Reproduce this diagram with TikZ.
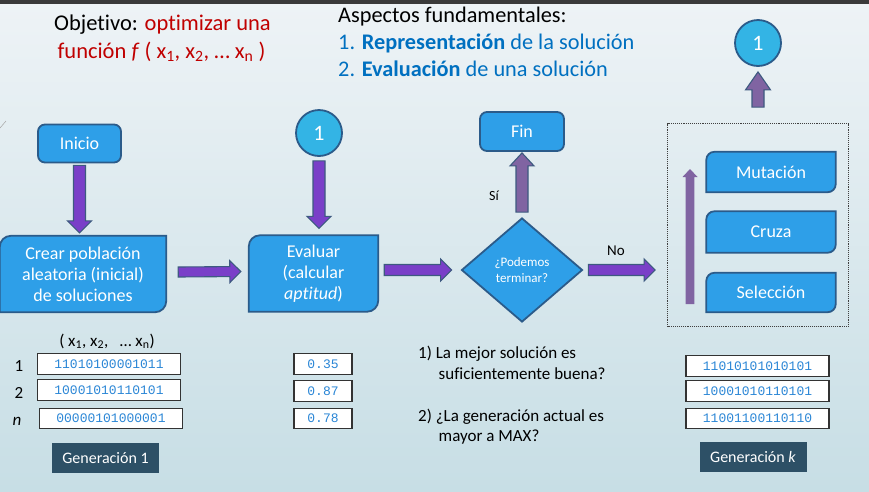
\documentclass[tikz,border=0pt]{standalone}
\usepackage{fontspec}
\setmainfont{Carlito}[Ligatures={NoCommon}]
\newfontfamily\monof{Liberation Mono}
\usetikzlibrary{shapes.geometric,calc}
\definecolor{bboxfill}{HTML}{2E9FE8}
\definecolor{bborder}{HTML}{2B5B8A}
\definecolor{circfill}{HTML}{33B4E5}
\definecolor{purpA}{HTML}{7A3FC8}
\definecolor{purpB}{HTML}{8064A2}
\definecolor{arrborder}{HTML}{3D5A80}
\definecolor{redt}{HTML}{C00000}
\definecolor{bluet}{HTML}{0070C0}
\definecolor{genfill}{HTML}{2D5066}
\definecolor{bintext}{HTML}{2A86D6}
\definecolor{bgtop}{HTML}{EEF3F6}
\definecolor{bgbot}{HTML}{C7DEE5}
\definecolor{topbar}{HTML}{3A3A3A}
\pgfdeclarelayer{bg}\pgfdeclarelayer{mid}\pgfsetlayers{bg,mid,main}

% block arrow: style, from, to, shaft half width, head half width, head length
\newcommand{\barrow}[6]{%
  \path let \p1=(#2), \p2=(#3) in \pgfextra{%
    \pgfmathsetmacro{\baangtmp}{atan2(\y2-\y1,\x2-\x1)}%
    \pgfmathsetmacro{\balentmp}{veclen(\x2-\x1,\y2-\y1)}%
    \xdef\baang{\baangtmp}\xdef\balen{\balentmp}%
    \xdef\bax{\x1}\xdef\bay{\y1}};
  \draw[#1, shift={(\bax,\bay)}, rotate=\baang]
    (0pt,#4) -- (\balen pt-#6,#4) -- (\balen pt-#6,#5) -- (\balen pt,0pt)
    -- (\balen pt-#6,-#5) -- (\balen pt-#6,-#4) -- (0pt,-#4) -- cycle;
}
% box with rounded top-left and bottom-right corners
\newcommand{\snipdraw}[2]{%
  \begin{pgfonlayer}{mid}
  \draw[snipbox] ([yshift=-#1]#2.north west)
    .. controls ([yshift=-0.45*#1]#2.north west) and ([xshift=0.45*#1]#2.north west) .. ([xshift=#1]#2.north west)
    -- (#2.north east) -- ([yshift=#1]#2.south east)
    .. controls ([yshift=0.45*#1]#2.south east) and ([xshift=-0.45*#1]#2.south east) .. ([xshift=-#1]#2.south east)
    -- (#2.south west) -- cycle;
  \end{pgfonlayer}}

\begin{document}
\begin{tikzpicture}[x=1pt,y=-1pt,
  boxtext/.style={text=white, font=\fontsize{18}{21}\selectfont, align=center, inner sep=0pt},
  snipbox/.style={fill=bboxfill, draw=bborder, line width=1.8pt},
  roundbox/.style={boxtext, fill=bboxfill, draw=bborder, line width=1.8pt, rounded corners=7pt},
  numcirc/.style={circle, fill=circfill, draw=bborder, line width=1.8pt, minimum size=46pt, inner sep=0pt, text=white, font=\fontsize{22}{26}\selectfont},
  arrA/.style={fill=purpA, draw=arrborder, line width=1.1pt},
  arrB/.style={fill=purpB, draw=arrborder, line width=1.1pt},
  arrC/.style={fill=purpB, draw=none},
  binbox/.style={draw=black!80, fill=white, line width=1.2pt, minimum width=143pt, minimum height=20.5pt, inner sep=0pt, font=\monof\fontsize{13}{15}\selectfont, text=bintext},
  valbox/.style={binbox, minimum width=58pt},
  genbox/.style={fill=genfill, text=white, minimum width=107pt, minimum height=29.5pt, font=\fontsize{16}{19}\selectfont, inner sep=0pt},
  lbl/.style={font=\fontsize{17}{20}\selectfont, inner sep=0pt},
  big/.style={font=\fontsize{22.5}{27}\selectfont, inner sep=0pt},
  mid/.style={font=\fontsize{22.3}{26}\selectfont, inner sep=0pt, text=bluet}
]
\useasboundingbox (0,0) rectangle (869,491);
\begin{pgfonlayer}{bg}
  \shade[top color=bgtop, bottom color=bgbot] (0,0) rectangle (869,491);
  \fill[topbar] (0,0) rectangle (869,4);
  \draw[gray!70, line width=0.5pt] (0,128) -- (6,121);
\end{pgfonlayer}

% titles
\node[big, anchor=base] (obj1) at (162.5,30) {Objetivo: \textcolor{redt}{optimizar una}};
\node[big, anchor=base, text=redt] (obj2) at (161.5,58) {función \textit{f} ( x\textsubscript{1}, x\textsubscript{2}, … x\textsubscript{n} )};
\node[mid, anchor=base west, text=black] (asp) at (338,22) {Aspectos fundamentales:};
\node[mid, anchor=base west] (asp1) at (338,49.5) {1. \textbf{Representación} de la solución};
\node[mid, anchor=base west] (asp2) at (338,76) {2. \textbf{Evaluación} de una solución};

% flow nodes
\node[roundbox, minimum width=83pt, minimum height=38pt] (inicio) at (79.5,143.5) {Inicio};
\node[boxtext, minimum width=166pt, minimum height=76pt] (crear) at (83,274) {Crear población\\aleatoria (inicial)\\de soluciones};
\snipdraw{11pt}{crear}
\node[numcirc] (c1) at (319,133) {1};
\node[boxtext, minimum width=129pt, minimum height=76pt] (eval) at (313.5,273.5) {Evaluar\\(calcular\\\textit{aptitud})};
\snipdraw{11pt}{eval}
\node[diamond, fill=bboxfill, draw=bborder, line width=1.8pt, minimum width=121pt, minimum height=104pt, aspect=1.16, inner sep=0pt, text=white, font=\fontsize{13}{16}\selectfont, align=center] (dec) at (522,270) {¿Podemos\\terminar?};
\node[roundbox, minimum width=84pt, minimum height=39pt] (fin) at (522,131.5) {Fin};
\node[draw=black!75, densely dotted, line width=0.9pt, minimum width=181pt, minimum height=203pt, inner sep=0pt] (loop) at (758,225) {};
\node[boxtext, minimum width=129pt, minimum height=40pt] (mut) at (771,172) {Mutación};
\snipdraw{8pt}{mut}
\node[boxtext, minimum width=129pt, minimum height=41pt] (cruza) at (771,232) {Cruza};
\snipdraw{8pt}{cruza}
\node[boxtext, minimum width=129pt, minimum height=39pt] (sel) at (771,292.5) {Selección};
\snipdraw{8pt}{sel}
\node[numcirc] (c2) at (758,43) {1};

\node[font=\fontsize{14}{16}\selectfont, anchor=base west, inner sep=0pt] (si) at (489,200) {Sí};
\node[font=\fontsize{15}{17}\selectfont, anchor=base west, inner sep=0pt] (no) at (607,255) {No};

% arrows
\coordinate (a1e) at (inicio.south |- crear.north);
\barrow{arrA}{[yshift=-2pt]inicio.south}{[yshift=3pt]a1e}{6pt}{12pt}{12pt}
\coordinate (a2e) at (c1.south |- eval.north);
\barrow{arrA}{[yshift=-4pt]c1.south}{[yshift=7pt]a2e}{6pt}{12pt}{12pt}
\barrow{arrA}{[xshift=12pt,yshift=2pt]crear.east}{[xshift=-8pt,yshift=2pt]eval.west}{5pt}{11pt}{11pt}
\coordinate (a4s) at (eval.east |- dec.west);
\barrow{arrA}{[xshift=6pt]a4s}{[xshift=-9pt]dec.west}{5.5pt}{11pt}{11pt}
\coordinate (a5e) at (loop.west |- dec.east);
\barrow{arrA}{[xshift=5pt]dec.east}{[xshift=-12pt]a5e}{5.5pt}{11pt}{11pt}
\barrow{arrB}{[yshift=5pt]dec.north}{[yshift=-1pt]fin.south}{6pt}{12pt}{13pt}
\coordinate (a7s) at (c2.south |- loop.north);
\barrow{arrB}{[yshift=16pt]a7s}{[yshift=-5pt]c2.south}{6pt}{12.5pt}{18pt}
\coordinate (tb) at (690,304);
\coordinate (tt) at (690,169);
\barrow{arrC}{tb}{tt}{4.3pt}{7.5pt}{8pt}

% generation 1
\node[lbl, anchor=base] (xs) at (107,346) {( x\textsubscript{1}, x\textsubscript{2},\ \ \ … x\textsubscript{n})};
\node[lbl, anchor=base] (r1) at (19,371.5) {1};
\node[lbl, anchor=base] (r2) at (19,398) {2};
\node[lbl, anchor=base] (rn) at (17,425) {\textit{n}};
\node[binbox] (b1) at (109,364) {11010100001011};
\node[binbox] (b2) at (109,390) {10001010110101};
\node[binbox] (bn) at (111,418.5) {00000101000001};
\node[genbox] (g1) at (105.5,458) {Generación 1};
\node[valbox] (v1) at (323,364) {0.35};
\node[valbox] (v2) at (323,391) {0.87};
\node[valbox] (vn) at (323,418.5) {0.78};

% conditions
\node[lbl, anchor=base west] (q1a) at (418,358.5) {1) La mejor solución es};
\node[lbl, anchor=base west] (q1b) at (438.5,379.5) {suficientemente buena?};
\node[lbl, anchor=base west] (q2a) at (418,421.5) {2) ¿La generación actual es};
\node[lbl, anchor=base west] (q2b) at (438.5,441) {mayor a MAX?};

% generation k
\node[binbox] (k1) at (757.5,366) {11010101010101};
\node[binbox] (k2) at (757.5,391) {10001010110101};
\node[binbox] (k3) at (757.5,418.5) {11001100110110};
\node[genbox] (gk) at (753,457) {Generación \textit{k}};
\end{tikzpicture}
\end{document}
